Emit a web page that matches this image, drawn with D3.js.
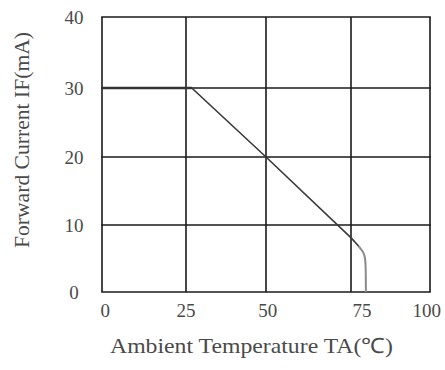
<!DOCTYPE html>
<html>
<head>
<meta charset="utf-8">
<script src="https://cdn.jsdelivr.net/npm/d3@7"></script>
<style>
html,body{margin:0;padding:0;background:#fff;}
svg{display:block;}
</style>
</head>
<body>
<svg id="chart" width="445" height="370"></svg>
<script>
// ---- data ----
const xTicks = [0, 25, 50, 75, 100];
const yTicks = [0, 10, 20, 30, 40];
const xTickLabels = ["0", "25", "50", "75", "100"];
const xTickLabelAt = [1, 25, 50.5, 78.5, 99];
const yTickLabels = ["0", "10", "20", "30", "40"];
const curveTemp = [0, 26.8, 50, 75.2, 77.5, 78.8, 79.7, 79.7];
const curveCurrent = [30, 30, 20, 8.0, 6.8, 6.0, 5.2, 0];
const dropFrom = 4; // index where the lighter (grey) segment starts
const xTitle = "Ambient Temperature TA(℃)";
const yTitle = "Forward Current IF(mA)";

// ---- drawing ----
const svg = d3.select("#chart");
const x = d3.scaleLinear().domain(xTicks).range([102, 186, 266, 351, 430]);
const y = d3.scaleLinear().domain(yTicks).range([292, 225, 157, 88, 17]);

const font = "'Liberation Serif','Times New Roman',serif";
const txt = "#4a4a4a";

// grid
const g = svg.append("g");
g.selectAll("line.vx").data(xTicks).join("line")
  .attr("x1", d => x(d)).attr("x2", d => x(d))
  .attr("y1", y(0)).attr("y2", y(40))
  .attr("stroke", "#1a1a1a").attr("stroke-width", 1.6);
g.selectAll("line.hy").data(yTicks).join("line")
  .attr("y1", d => y(d)).attr("y2", d => y(d))
  .attr("x1", x(0) - 0.8).attr("x2", x(100) + 0.8)
  .attr("stroke", "#1a1a1a").attr("stroke-width", 1.6);

// curve
const pts = curveTemp.map((t, i) => [t, curveCurrent[i]]);
const line = d3.line().x(d => x(d[0])).y(d => y(d[1])).curve(d3.curveLinear);
svg.append("path").datum(pts.slice(0, dropFrom + 1))
  .attr("d", line).attr("fill", "none")
  .attr("stroke", "#3a3a3a").attr("stroke-width", 1.6);
svg.append("path").datum(pts.slice(dropFrom))
  .attr("d", d3.line().x(d => x(d[0])).y(d => y(d[1])).curve(d3.curveBasis))
  .attr("fill", "none")
  .attr("stroke", "#8a8a8a").attr("stroke-width", 2);
// thicker flat section
svg.append("path").datum(pts.slice(0, 2))
  .attr("d", line).attr("fill", "none")
  .attr("stroke", "#333").attr("stroke-width", 2.6);

// tick labels
svg.selectAll("text.xl").data(xTickLabels).join("text")
  .attr("x", (d, i) => x(xTickLabelAt[i])).attr("y", 317)
  .attr("text-anchor", "middle")
  .attr("font-family", font).attr("font-size", 19).attr("fill", txt)
  .text(d => d);
svg.selectAll("text.yl").data(yTickLabels).join("text")
  .attr("x", 74).attr("y", (d, i) => y(yTicks[i]) + 6.5)
  .attr("text-anchor", "middle")
  .attr("font-family", font).attr("font-size", 19).attr("fill", txt)
  .text(d => d);

// titles
svg.append("text").attr("x", 110).attr("y", 353)
  .attr("font-family", font).attr("font-size", 21).attr("fill", txt)
  .attr("textLength", 283).attr("lengthAdjust", "spacingAndGlyphs")
  .text(xTitle);
svg.append("text")
  .attr("transform", "translate(29,248) rotate(-90)")
  .attr("font-family", font).attr("font-size", 21).attr("fill", txt)
  .attr("textLength", 216).attr("lengthAdjust", "spacingAndGlyphs")
  .text(yTitle);
</script>
</body>
</html>
